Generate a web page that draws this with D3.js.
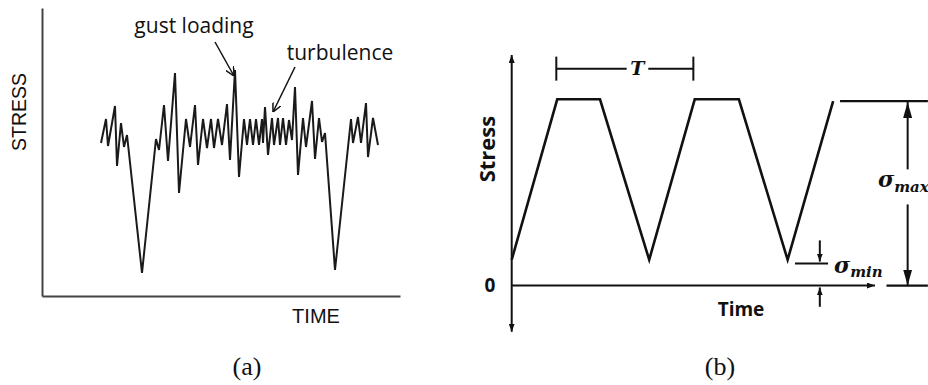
<!DOCTYPE html>
<meta charset="utf-8">
<style>
  body { margin: 0; background: #fff; }
  text { fill: #111; }
</style>
<svg width="928" height="385"></svg>
<script src="https://cdn.jsdelivr.net/npm/d3@7"></script>
<script>
// (a) random loading -- time / stress
var gustTime = [5.9, 6.4, 6.6, 7.3, 7.5, 7.9, 8.2, 8.5, 10.0, 11.4, 11.7, 12.2, 12.6, 13.3, 13.7,
  14.4, 14.8, 15.3, 15.6, 16.1, 16.5, 16.9, 17.2, 17.6, 18.0, 18.5, 18.8, 19.3, 19.7, 20.2,
  20.5, 20.8, 21.1, 21.4, 21.7, 22.0, 22.1, 22.3, 22.6, 23.0, 23.2, 23.6, 23.8, 24.1, 24.4,
  24.7, 25.0, 25.3, 25.6, 26.1, 26.4, 27.0, 27.3, 27.7, 28.0, 28.3, 29.3, 30.9, 31.1, 31.6,
  31.9, 32.4, 32.6, 33.1, 33.6];
var gustStress = [15.3, 17.7, 15.0, 19.0, 13.0, 17.3, 14.9, 16.1, 2.3, 15.7, 14.6, 19.1, 13.5, 22.3, 10.3,
  17.7, 14.9, 19.1, 13.1, 17.7, 14.8, 17.7, 14.8, 17.7, 15.1, 19.2, 13.6, 22.6, 11.9, 17.7,
  15.1, 17.7, 15.1, 17.7, 15.1, 17.7, 15.3, 18.9, 14.1, 17.8, 15.1, 17.8, 15.1, 17.8, 15.1,
  17.6, 15.6, 20.9, 12.1, 17.8, 14.9, 19.5, 13.7, 17.8, 15.4, 16.3, 2.6, 17.7, 15.3, 17.9,
  15.3, 19.3, 13.9, 17.8, 15.1];

// (b) constant amplitude cycle, stress relative to sigma max
var cycleTime = [0, 0.99, 1.92, 2.99, 3.98, 4.94, 6.0, 6.99];
var cycleStress = [0.14, 1.01, 1.01, 0.14, 1.01, 1.01, 0.14, 1.0];
var sigmaMax = 1.0, sigmaMin = 0.12;
var period = [0.97, 3.95];

var svg = d3.select("svg");
var defs = svg.append("defs");

function marker(id, w, h, open) {
  var m = defs.append("marker")
      .attr("id", id)
      .attr("viewBox", "0 0 10 10")
      .attr("preserveAspectRatio", "none")
      .attr("markerUnits", "userSpaceOnUse")
      .attr("markerWidth", w)
      .attr("markerHeight", h)
      .attr("refX", 10)
      .attr("refY", 5)
      .attr("orient", "auto-start-reverse");
  if (open) {
    m.append("path").attr("d", "M0,0L10,5L0,10").attr("fill", "none")
        .attr("stroke", "#111").attr("stroke-width", 1.5).attr("vector-effect", "non-scaling-stroke");
  } else {
    m.append("path").attr("d", "M0,0L10,5L0,10Z").attr("fill", "#111");
  }
}
marker("tip", 16, 9, false);
marker("small", 8, 6, false);
marker("open", 9, 9, true);

// ---------- (a) ----------
var xa = d3.scaleLinear().domain([0, 35.8]).range([42, 400]);
var ya = d3.scaleLinear().domain([0, 28.8]).range([296, 8]);

var ga = svg.append("g");

ga.append("g")
    .attr("transform", "translate(0," + ya(0) + ")")
    .call(d3.axisBottom(xa).tickValues([]).tickSizeOuter(0))
    .select(".domain").attr("stroke", "#444").attr("stroke-width", 2);

ga.append("g")
    .attr("transform", "translate(" + xa(0) + ",0)")
    .call(d3.axisLeft(ya).tickValues([]).tickSizeOuter(0))
    .select(".domain").attr("stroke", "#444").attr("stroke-width", 2);

var gustLine = d3.line()
    .x(function(d, i) { return xa(gustTime[i]); })
    .y(function(d) { return ya(d); });

ga.append("path")
    .datum(gustStress)
    .attr("fill", "none")
    .attr("stroke", "#1a1a1a")
    .attr("stroke-width", 2)
    .attr("stroke-linejoin", "miter")
    .attr("d", gustLine);

ga.append("text")
    .attr("transform", "translate(19," + ya(18.4) + ") rotate(-90)")
    .attr("text-anchor", "middle")
    .attr("dy", "0.35em")
    .style("font", "19.5px 'Liberation Sans', Arial, sans-serif")
    .text("STRESS");

ga.append("text")
    .attr("x", 316).attr("y", 323)
    .attr("text-anchor", "middle")
    .style("font", "20px 'Liberation Sans', Arial, sans-serif")
    .text("TIME");

ga.append("text")
    .attr("x", 194).attr("y", 33)
    .attr("text-anchor", "middle")
    .style("font", "21px 'Open Sans', sans-serif")
    .text("gust loading");

ga.append("text")
    .attr("x", 340).attr("y", 60)
    .attr("text-anchor", "middle")
    .style("font", "21px 'Open Sans', sans-serif")
    .text("turbulence");

// annotation arrows point at the gust peak and a turbulence wiggle
ga.append("line")
    .attr("x1", xa(17.3)).attr("y1", ya(25.4))
    .attr("x2", xa(19.2)).attr("y2", ya(22.0))
    .attr("stroke", "#111").attr("stroke-width", 1.5)
    .attr("marker-end", "url(#open)");

ga.append("line")
    .attr("x1", xa(25.3)).attr("y1", ya(22.9))
    .attr("x2", xa(23.1)).attr("y2", ya(18.4))
    .attr("stroke", "#111").attr("stroke-width", 1.5)
    .attr("marker-end", "url(#open)");

ga.append("text")
    .attr("x", xa(20.5)).attr("y", 375)
    .attr("text-anchor", "middle")
    .style("font", "26px 'Liberation Serif', 'Times New Roman', serif")
    .text("(a)");

// ---------- (b) ----------
var xb = d3.scaleLinear().domain([0, 7.9]).range([511.7, 875]);
var yb = d3.scaleLinear().domain([-0.25, 1.25]).range([331.7, 55]);

var gb = svg.append("g").attr("stroke-linecap", "butt");

gb.append("line")
    .attr("x1", xb(0)).attr("x2", xb(0))
    .attr("y1", yb(-0.25)).attr("y2", yb(1.25))
    .attr("stroke", "#111").attr("stroke-width", 2)
    .attr("marker-start", "url(#small)")
    .attr("marker-end", "url(#small)");

gb.append("line")
    .attr("x1", xb(0)).attr("x2", xb(7.9))
    .attr("y1", yb(0)).attr("y2", yb(0))
    .attr("stroke", "#111").attr("stroke-width", 2)
    .attr("marker-end", "url(#small)");

var cycleLine = d3.line()
    .x(function(d, i) { return xb(cycleTime[i]); })
    .y(function(d) { return yb(d); });

gb.append("path")
    .datum(cycleStress)
    .attr("fill", "none")
    .attr("stroke", "#111")
    .attr("stroke-width", 2.6)
    .attr("stroke-linejoin", "miter")
    .attr("d", cycleLine);

// sigma max reference line and zero line on the right
gb.append("line")
    .attr("x1", xb(7.14)).attr("x2", xb(9.05))
    .attr("y1", yb(sigmaMax)).attr("y2", yb(sigmaMax))
    .attr("stroke", "#111").attr("stroke-width", 2.2);

gb.append("line")
    .attr("x1", xb(8.15)).attr("x2", xb(9.05))
    .attr("y1", yb(0)).attr("y2", yb(0))
    .attr("stroke", "#111").attr("stroke-width", 2.2);

var xs = xb(8.61);
gb.append("line")
    .attr("x1", xs).attr("x2", xs)
    .attr("y1", yb(0.63)).attr("y2", yb(sigmaMax - 0.005))
    .attr("stroke", "#111").attr("stroke-width", 2)
    .attr("marker-end", "url(#tip)");
gb.append("line")
    .attr("x1", xs).attr("x2", xs)
    .attr("y1", yb(0.44)).attr("y2", yb(0))
    .attr("stroke", "#111").attr("stroke-width", 2)
    .attr("marker-end", "url(#tip)");

// sigma min
gb.append("line")
    .attr("x1", xb(6.16)).attr("x2", xb(6.88))
    .attr("y1", yb(sigmaMin)).attr("y2", yb(sigmaMin))
    .attr("stroke", "#111").attr("stroke-width", 2);

var xm = xb(6.7);
gb.append("line")
    .attr("x1", xm).attr("x2", xm)
    .attr("y1", yb(0.245)).attr("y2", yb(0.13))
    .attr("stroke", "#111").attr("stroke-width", 2)
    .attr("marker-end", "url(#small)");
gb.append("line")
    .attr("x1", xm).attr("x2", xm)
    .attr("y1", yb(-0.115)).attr("y2", yb(-0.01))
    .attr("stroke", "#111").attr("stroke-width", 2)
    .attr("marker-end", "url(#small)");

// period bracket
var yT = yb(1.176);
gb.append("line")
    .attr("x1", xb(period[0])).attr("x2", xb(2.5))
    .attr("y1", yT).attr("y2", yT)
    .attr("stroke", "#111").attr("stroke-width", 2);
gb.append("line")
    .attr("x1", xb(2.97)).attr("x2", xb(period[1]))
    .attr("y1", yT).attr("y2", yT)
    .attr("stroke", "#111").attr("stroke-width", 2);
gb.selectAll(".tick-t")
    .data(period)
  .enter().append("line")
    .attr("x1", function(d) { return xb(d); })
    .attr("x2", function(d) { return xb(d); })
    .attr("y1", yT - 12).attr("y2", yT + 12)
    .attr("stroke", "#111").attr("stroke-width", 2);

gb.append("text")
    .attr("x", xb(2.73)).attr("y", yT)
    .attr("dy", "0.35em")
    .attr("text-anchor", "middle")
    .style("font", "italic bold 19px 'DejaVu Serif', serif")
    .text("T");

gb.append("text")
    .attr("transform", "translate(495," + yb(0.74) + ") rotate(-90)")
    .attr("text-anchor", "middle")
    .style("font", "bold 22px 'Open Sans', sans-serif")
    .text("Stress");

gb.append("text")
    .attr("x", 490).attr("y", yb(0))
    .attr("dy", "0.36em")
    .attr("text-anchor", "middle")
    .style("font", "bold 19px 'Open Sans', sans-serif")
    .text("0");

gb.append("text")
    .attr("x", 741).attr("y", 316)
    .attr("text-anchor", "middle")
    .style("font", "bold 19px 'Open Sans', sans-serif")
    .text("Time");

var sigMax = gb.append("text")
    .attr("x", 878).attr("y", 187)
    .style("font", "bold italic 22px 'DejaVu Serif', serif");
sigMax.append("tspan").text("σ");
sigMax.append("tspan").attr("dy", 5).style("font-size", "15px").text("max");

var sigMin = gb.append("text")
    .attr("x", 834).attr("y", 273)
    .style("font", "bold italic 22px 'DejaVu Serif', serif");
sigMin.append("tspan").text("σ");
sigMin.append("tspan").attr("dy", 4).style("font-size", "15px").text("min");

gb.append("text")
    .attr("x", 720).attr("y", 375)
    .attr("text-anchor", "middle")
    .style("font", "26px 'Liberation Serif', 'Times New Roman', serif")
    .text("(b)");
</script>
